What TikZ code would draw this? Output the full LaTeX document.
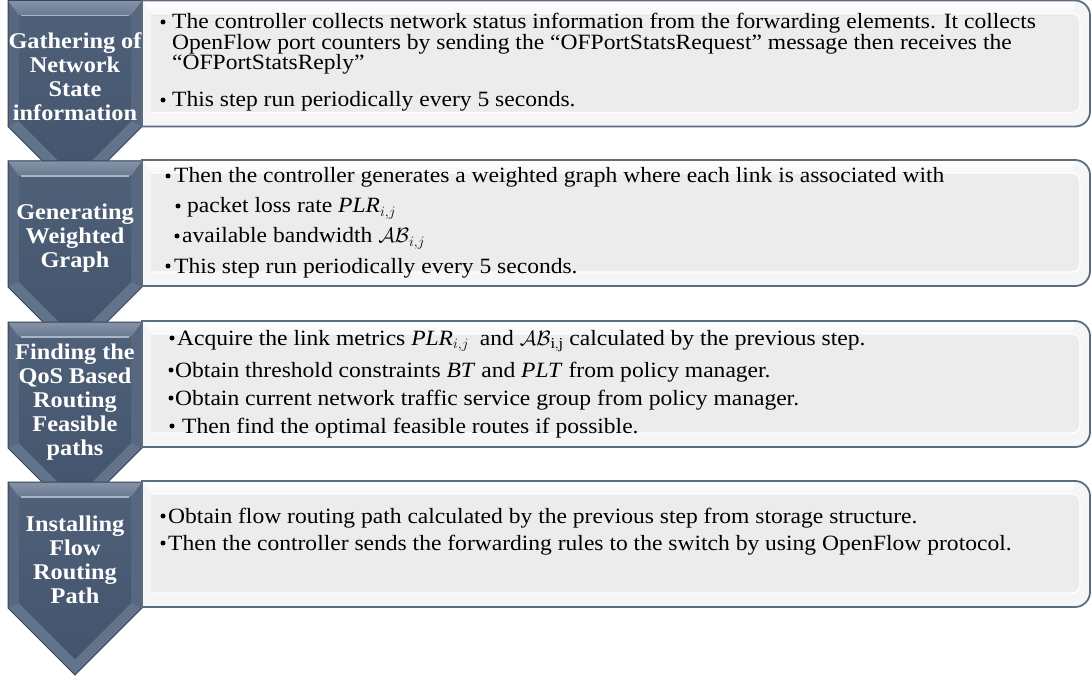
\documentclass[tikz,border=0pt]{standalone}
\usepackage{fontspec}
\setmainfont{Liberation Serif}[FakeStretch=1.08]

\definecolor{chevface}{HTML}{44546D}
\definecolor{chevfacetop}{HTML}{4E5F78}
\definecolor{chevbevel}{HTML}{56677F}
\definecolor{chevtop}{HTML}{687991}
\definecolor{chevdiag}{HTML}{62738C}
\definecolor{chevedge}{HTML}{364458}
\definecolor{chevlight}{HTML}{AAB6C7}
\definecolor{boxedge}{HTML}{5E6C80}
\definecolor{boxface}{HTML}{ECECEC}
\definecolor{boxbevel}{HTML}{F6F6F6}

% italic metric name with a math subscript
\newcommand\metric[2]{\textit{#1}$_{#2}$}

% dark step arrow on the left; #1 = top edge
\newcommand\drawchevron[1]{%
  \begin{scope}[shift={(0,#1)}]
    \fill[chevbevel] (8,0) -- (142,0) -- (142,126) -- (75,193) -- (8,126) -- cycle;
    \shade[top color=chevtop!80!white, bottom color=chevtop]
      (8,0) -- (142,0) -- (131,15) -- (19,15) -- cycle;
    \fill[chevdiag] (8,126) -- (75,193) -- (142,126) -- (131,121) -- (75,177) -- (19,121) -- cycle;
    \shade[top color=chevfacetop, bottom color=chevface]
      (19,15) -- (131,15) -- (131,121) -- (75,177) -- (19,121) -- cycle;
    \draw[chevlight, line width=1.6] (21,15) -- (129,15);
    \draw[chevedge, line width=1] (8,0) -- (142,0) -- (142,126) -- (75,193) -- (8,126) -- cycle;
  \end{scope}}

% light bevelled panel on the right; #1 = top edge
\newcommand\drawpanel[1]{%
  \begin{scope}[shift={(0,#1)}]
    \fill[boxbevel] (142,0) -- (1075,0) arc[start angle=-90,end angle=0,radius=15]
      -- (1090,111) arc[start angle=0,end angle=90,radius=15] -- (142,126) -- cycle;
    \shade[top color=white, bottom color=boxbevel]
      (143,1) -- (1075,1) -- (1072,13) -- (151,13) -- cycle;
    \fill[boxface] (151,13) -- (1072,13) arc[start angle=-90,end angle=0,radius=8]
      -- (1080,104) arc[start angle=0,end angle=90,radius=8] -- (151,112) -- cycle;
    \draw[white, line width=1.4] (151,13) -- (1072,13) arc[start angle=-90,end angle=0,radius=8]
      -- (1080,104) arc[start angle=0,end angle=90,radius=8] -- (151,112);
    \draw[boxedge, line width=1.8] (142,0) -- (1075,0) arc[start angle=-90,end angle=0,radius=15]
      -- (1090,111) arc[start angle=0,end angle=90,radius=15] -- (142,126) -- cycle;
  \end{scope}}

\begin{document}
\begin{tikzpicture}[x=1pt,y=-1pt,
  steplabel/.style={text=white, inner sep=0, align=center,
    font=\fontsize{22.5}{24}\selectfont\bfseries},
  itemtxt/.style={anchor=base west, inner sep=0, text=black,
    font=\fontsize{21.8}{20.8}\selectfont},
  bulletdot/.style={circle, fill=black, inner sep=0, minimum size=5pt}]

\fill[white] (0,0) rectangle (1092,676);
\useasboundingbox (0,0) rectangle (1092,676);

% ---- step 1
\drawchevron{0.5}
\drawpanel{0.5}
\node[steplabel] (s1) at (75,77) {Gathering of\\Network\\State\\information};
\node[bulletdot] (d11) at (163,22) {};
\node[itemtxt] (t11) at (172,29) {The controller collects network status information from the forwarding elements. It collects};
\node[itemtxt] (t12) at (172,50) {OpenFlow port counters by sending the “OFPortStatsRequest” message then receives the};
\node[itemtxt] (t13) at (172,70) {“OFPortStatsReply”};
\node[bulletdot] (d12) at (163,100) {};
\node[itemtxt] (t14) at (172,107) {This step run periodically every 5 seconds.};

% ---- step 2
\drawchevron{161}
\drawpanel{160}
\node[steplabel] (s2) at (75,238) {Generating\\Weighted\\Graph};
\node[bulletdot] (d21) at (168,176) {};
\node[itemtxt] (t21) at (174,183) {Then the controller generates a weighted graph where each link is associated with};
\node[bulletdot] (d22) at (178,206) {};
\node[itemtxt] (t22) at (187,213) {packet loss rate \metric{PLR}{i,j}};
\node[bulletdot] (d23) at (177,236) {};
\node[itemtxt] (t23) at (182,243) {available bandwidth $\mathcal{AB}_{i,j}$};
\node[bulletdot] (d24) at (168,266) {};
\node[itemtxt] (t24) at (174,273) {This step run periodically every 5 seconds.};

% ---- step 3
\drawchevron{322}
\drawpanel{321}
\node[steplabel] (s3) at (75,402) {Finding the\\QoS Based\\Routing\\Feasible\\paths};
\node[bulletdot] (d31) at (172,338) {};
\node[itemtxt] (t31) at (177,345) {Acquire the link metrics \metric{PLR}{i,j}\enspace and $\mathcal{AB}_{\mathrm{i,j}}$ calculated by the previous step.};
\node[bulletdot] (d32) at (171,370) {};
\node[itemtxt] (t32) at (175,377) {Obtain threshold constraints \textit{BT} and \textit{PLT} from policy manager.};
\node[bulletdot] (d33) at (171,398) {};
\node[itemtxt] (t33) at (175,405) {Obtain current network traffic service group from policy manager.};
\node[bulletdot] (d34) at (172,426) {};
\node[itemtxt] (t34) at (182,433) {Then find the optimal feasible routes if possible.};

% ---- step 4
\drawchevron{482}
\drawpanel{481}
\node[steplabel] (s4) at (75,560) {Installing\\Flow\\Routing\\Path};
\node[bulletdot] (d41) at (163,516) {};
\node[itemtxt] (t41) at (168,523) {Obtain flow routing path calculated by the previous step from storage structure.};
\node[bulletdot] (d42) at (163,543) {};
\node[itemtxt] (t42) at (168,550) {Then the controller sends the forwarding rules to the switch by using OpenFlow protocol.};

\end{tikzpicture}
\end{document}
